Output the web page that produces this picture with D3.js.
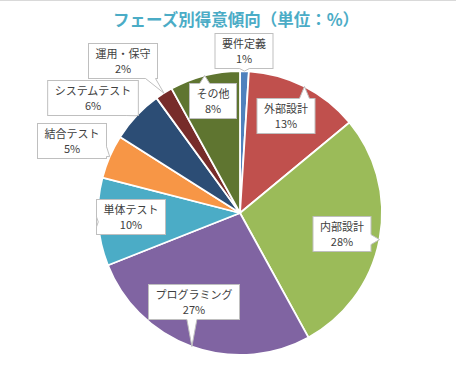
<!DOCTYPE html>
<html><head><meta charset="utf-8">
<script src="https://cdn.jsdelivr.net/npm/d3@7"></script>
<style>
html,body{margin:0;padding:0;background:#fff;}
svg{display:block;}
</style></head>
<body>
<script>
const title = "フェーズ別得意傾向（単位：%）";
const categories = ["要件定義","外部設計","内部設計","プログラミング","単体テスト","結合テスト","システムテスト","運用・保守","その他"];
const values = [1,13,28,27,10,5,6,2,8];
const colors = ["#4F81BD","#C0504D","#9BBB59","#8064A2","#4BACC6","#F79646","#2C4D75","#772C2A","#5F7530"];
// label box centre offsets relative to pie centre (layout)
const labelOffsets = [[4,-162],[46,-97],[102,21],[-46,89],[-109,4],[-168,-72],[-147,-115],[-117,-152],[-27,-112]];

const W = 456, H = 377;
const cx = 240, cy = 213, R = 142;
const svg = d3.select("body").append("svg").attr("width", W).attr("height", H);
svg.append("rect").attr("width", W).attr("height", H).attr("fill", "#fff");
svg.append("line").attr("x1",0).attr("x2",W).attr("y1",0.5).attr("y2",0.5).attr("stroke","#d9d9d9").attr("stroke-width",1);

svg.append("text").attr("x", 236).attr("y", 26).attr("text-anchor","middle")
  .attr("font-family","'Noto Sans CJK JP','Noto Sans',sans-serif").attr("font-weight","bold")
  .attr("font-size",16.5).attr("fill","#4BACC6").text(title);

const pie = d3.pie().value(d => d).sort(null);
const arcs = pie(values);
const arc = d3.arc().innerRadius(0).outerRadius(R);
const g = svg.append("g").attr("transform", `translate(${cx},${cy})`);
g.selectAll("path.slice").data(arcs).join("path").attr("class","slice")
  .attr("d", arc).attr("fill", (d,i) => colors[i])
  .attr("stroke","#fff").attr("stroke-width",1.8).attr("stroke-linejoin","round");

const fmt = d3.format(".0%");
const total = d3.sum(values);
const lg = g.append("g").attr("font-family","'Noto Sans CJK JP','Noto Sans',sans-serif").attr("font-size",11);

arcs.forEach((d,i) => {
  const mid = (d.startAngle + d.endAngle)/2;
  const tip = [R*Math.sin(mid), -R*Math.cos(mid)];
  const [ox, oy] = labelOffsets[i];
  const grp = lg.append("g");
  const t1 = grp.append("text").attr("text-anchor","middle").attr("fill","#404040").attr("x",ox).text(categories[i]);
  const t2 = grp.append("text").attr("text-anchor","middle").attr("fill","#404040").attr("x",ox).text(fmt(values[i]/total));
  const w = Math.max(t1.node().getComputedTextLength(), t2.node().getComputedTextLength()) + 14;
  const h = 35;
  const x0 = ox - w/2, y0 = oy - h/2, x1 = ox + w/2, y1 = oy + h/2;
  t1.attr("y", y0 + 14);
  t2.attr("y", y0 + 29);
  // choose edge by direction from box centre to tip
  const dx = tip[0] - ox, dy = tip[1] - oy;
  const hw = 5;
  let base, inner;
  const clampX = v => Math.max(x0+hw+2, Math.min(x1-hw-2, v));
  const clampY = v => Math.max(y0+hw+2, Math.min(y1-hw-2, v));
  if (Math.abs(dy)/(h/2) >= Math.abs(dx)/(w/2)) {
    const bx = clampX(tip[0]);
    const ey = dy < 0 ? y0 : y1, s = dy < 0 ? 1 : -1;
    base = [[bx-hw,ey],[bx+hw,ey]]; inner = [[bx-hw,ey+s*1.5],[bx+hw,ey+s*1.5]];
  } else {
    const by = clampY(tip[1]);
    const ex = dx < 0 ? x0 : x1, s = dx < 0 ? 1 : -1;
    base = [[ex,by-hw],[ex,by+hw]]; inner = [[ex+s*1.5,by-hw],[ex+s*1.5,by+hw]];
  }
  grp.insert("rect", "text").attr("x", x0).attr("y", y0).attr("width", w).attr("height", h)
    .attr("fill","#fff").attr("stroke","#bfbfbf").attr("stroke-width",1);
  grp.insert("path", "text").attr("d", d3.line()([inner[0], base[0], tip, base[1], inner[1]]) + "Z")
    .attr("fill","#fff").attr("stroke","none");
  grp.insert("path", "text").attr("d", d3.line()([base[0], tip, base[1]]))
    .attr("fill","none").attr("stroke","#bfbfbf").attr("stroke-width",1).attr("stroke-linejoin","miter");
});
</script>
</body></html>
